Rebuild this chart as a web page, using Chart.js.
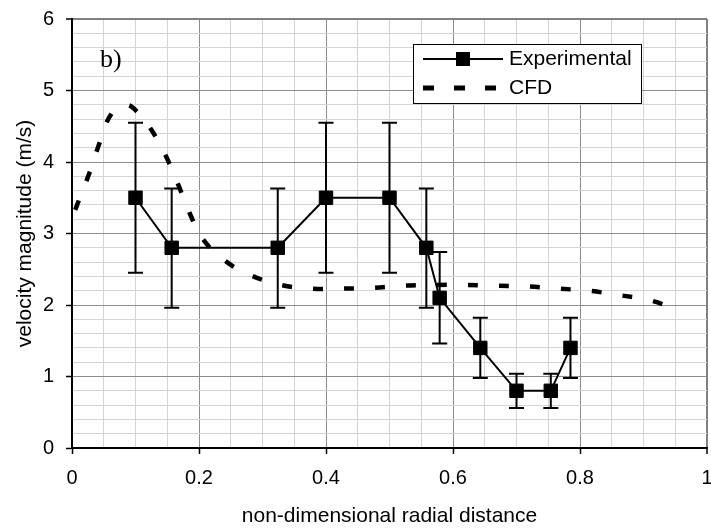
<!DOCTYPE html>
<html lang="en">
<head>
  <meta charset="UTF-8" />
  <title>velocity magnitude</title>
  <script src="https://cdn.jsdelivr.net/npm/chart.js"></script>
  <style>
    body { margin: 0; background: #fff; }
  </style>
</head>
<body>
  <canvas id="velChart" width="711" height="530"></canvas>

  <script>
    // experimental points
    const expX = [0.1, 0.157, 0.324, 0.4, 0.5, 0.558, 0.579, 0.643, 0.7, 0.754, 0.785];
    const expY = [3.5, 2.8, 2.8, 3.5, 3.5, 2.8, 2.1, 1.4, 0.8, 0.8, 1.4];
    const expHigh = [4.55, 3.63, 3.63, 4.55, 4.55, 3.63, 2.74, 1.82, 1.04, 1.04, 1.82];
    const expLow = [2.45, 1.96, 1.96, 2.45, 2.45, 1.96, 1.46, 0.98, 0.56, 0.56, 0.98];

    // CFD curve
    const cfdX = [0.005, 0.028, 0.044, 0.0625, 0.085, 0.105, 0.125, 0.148, 0.167, 0.185, 0.207, 0.244, 0.283,
                  0.329, 0.377, 0.425, 0.472, 0.522, 0.569, 0.619, 0.666, 0.716, 0.763, 0.813, 0.86, 0.908, 0.96];
    const cfdY = [3.33, 3.86, 4.28, 4.68, 4.8, 4.68, 4.45, 4.08, 3.69, 3.29, 2.91, 2.6, 2.41,
                  2.28, 2.23, 2.23, 2.24, 2.27, 2.28, 2.28, 2.27, 2.26, 2.23, 2.2, 2.14, 2.07, 1.92];

    const xLabels = ['0', '0.2', '0.4', '0.6', '0.8', '1'];
    const yLabels = ['0', '1', '2', '3', '4', '5', '6'];

    const FONT = '"Liberation Sans", Arial, sans-serif';
    Chart.defaults.font.family = FONT;
    Chart.defaults.color = '#000';

    const isMajor = (v, step) => Math.abs(v / step - Math.round(v / step)) < 1e-6;

    const errorBars = {
      id: 'errorBars',
      afterDatasetsDraw(chart) {
        const { ctx, scales: { x, y } } = chart;
        ctx.save();
        ctx.strokeStyle = '#000';
        ctx.lineWidth = 2;
        expX.forEach((xv, i) => {
          const px = x.getPixelForValue(xv);
          const top = y.getPixelForValue(expHigh[i]);
          const bot = y.getPixelForValue(expLow[i]);
          ctx.beginPath();
          ctx.moveTo(px, top); ctx.lineTo(px, bot);
          ctx.moveTo(px - 7.5, top); ctx.lineTo(px + 7.5, top);
          ctx.moveTo(px - 7.5, bot); ctx.lineTo(px + 7.5, bot);
          ctx.stroke();
        });
        ctx.restore();
      }
    };

    const extras = {
      id: 'extras',
      afterDraw(chart) {
        const ctx = chart.ctx;
        ctx.save();
        // "b)"
        ctx.fillStyle = '#000';
        ctx.font = '26px "Liberation Serif", "Times New Roman", serif';
        ctx.textBaseline = 'alphabetic';
        ctx.fillText('b)', 100, 67);

        // legend box
        ctx.fillStyle = '#fff';
        ctx.fillRect(413, 44, 229, 60);
        ctx.strokeStyle = '#000';
        ctx.lineWidth = 1;
        ctx.strokeRect(413.5, 44.5, 228, 59);

        ctx.lineWidth = 2;
        ctx.beginPath();
        ctx.moveTo(423, 59); ctx.lineTo(503, 59);
        ctx.stroke();
        ctx.fillStyle = '#000';
        ctx.fillRect(456, 52, 14, 14);

        ctx.lineWidth = 5;
        ctx.setLineDash([11, 20]);
        ctx.beginPath();
        ctx.moveTo(423, 88); ctx.lineTo(503, 88);
        ctx.stroke();
        ctx.setLineDash([]);

        ctx.font = '21px ' + FONT;
        ctx.textBaseline = 'middle';
        ctx.fillText('Experimental', 509, 59);
        ctx.fillText('CFD', 509, 88);
        ctx.restore();
      }
    };

    new Chart(document.getElementById('velChart'), {
      type: 'scatter',
      data: {
        datasets: [
          {
            label: 'Experimental',
            data: expX.map((v, i) => ({ x: v, y: expY[i] })),
            showLine: true,
            borderColor: '#000',
            borderWidth: 2,
            pointStyle: 'rect',
            pointRadius: 9.5,
            pointBackgroundColor: '#000',
            pointBorderColor: '#000',
            pointBorderWidth: 1
          },
          {
            label: 'CFD',
            data: cfdX.map((v, i) => ({ x: v, y: cfdY[i] })),
            showLine: true,
            borderColor: '#000',
            borderWidth: 4.5,
            borderDash: [10, 21],
            borderCapStyle: 'butt',
            tension: 0.4,
            pointRadius: 0
          }
        ]
      },
      options: {
        responsive: false,
        devicePixelRatio: 1,
        animation: false,
        layout: { autoPadding: false, padding: { top: 19, right: 4, left: 0, bottom: 0 } },
        plugins: {
          legend: { display: false },
          tooltip: { enabled: false }
        },
        scales: {
          x: {
            type: 'linear',
            min: 0,
            max: 1,
            afterFit(scale) {
              scale.height = 82;
              scale.paddingLeft = 0;
              scale.paddingRight = 0;
            },
            ticks: {
              stepSize: 0.05,
              autoSkip: false,
              maxRotation: 0,
              padding: 12,
              font: { size: 20 },
              callback: v => isMajor(v, 0.2) ? xLabels[Math.round(v / 0.2)] : ''
            },
            grid: {
              color: c => c.tick.value >= 1 ? '#808080' : (isMajor(c.tick.value, 0.2) ? '#8c8c8c' : '#d4d4d4'),
              lineWidth: c => c.tick.value >= 1 ? 2 : 1,
              tickColor: c => isMajor(c.tick.value, 0.2) ? '#000' : 'rgba(0,0,0,0)',
              tickLength: 6,
              tickWidth: 1.5
            },
            border: { color: '#000', width: 2 },
            title: {
              display: true,
              text: 'non-dimensional radial distance',
              font: { size: 21 },
              padding: { top: 0, bottom: 1 }
            }
          },
          y: {
            type: 'linear',
            min: 0,
            max: 6,
            afterFit(scale) {
              scale.width = 72;
              scale.paddingTop = 0;
              scale.paddingBottom = 0;
            },
            ticks: {
              stepSize: 0.2,
              autoSkip: false,
              padding: 12,
              font: { size: 20 },
              callback: v => isMajor(v, 1) ? yLabels[Math.round(v)] : ''
            },
            grid: {
              color: c => c.tick.value >= 6 ? '#808080' : (isMajor(c.tick.value, 1) ? '#8c8c8c' : '#d4d4d4'),
              lineWidth: c => c.tick.value >= 6 ? 2 : 1,
              tickColor: c => isMajor(c.tick.value, 1) ? '#000' : 'rgba(0,0,0,0)',
              tickLength: 6,
              tickWidth: 1.5
            },
            border: { color: '#000', width: 2 },
            title: {
              display: true,
              text: 'velocity magnitude (m/s)',
              font: { size: 21 },
              padding: { top: 13, bottom: 0 }
            }
          }
        }
      },
      plugins: [errorBars, extras]
    });
  </script>
</body>
</html>
